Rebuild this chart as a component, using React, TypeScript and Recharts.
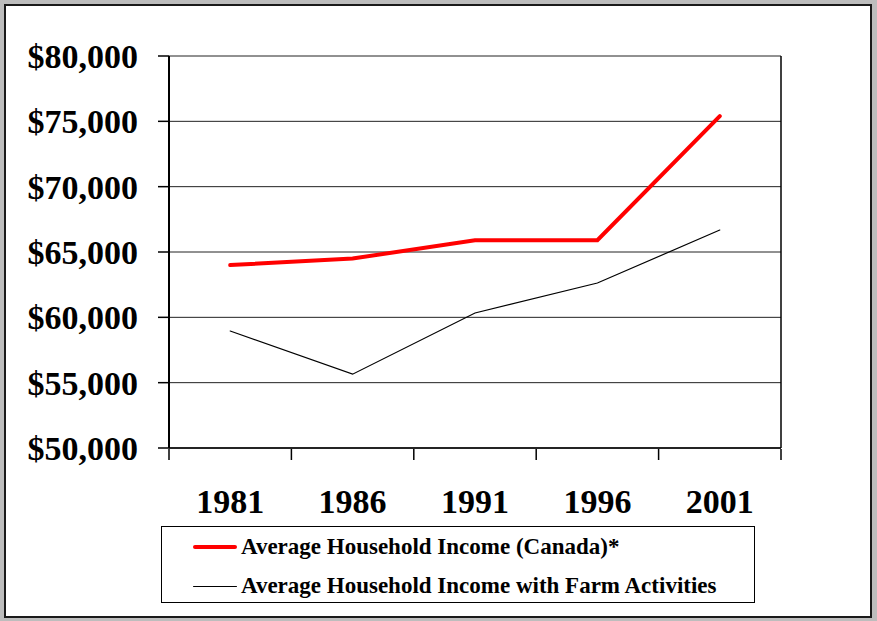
import { LineChart, Line, XAxis, YAxis, CartesianGrid } from 'recharts';

const years = ['1981', '1986', '1991', '1996', '2001'];
const canadaIncome = [64000, 64500, 65900, 65900, 75400];
const farmIncome = [58950, 55650, 60330, 62630, 66680];
const yTicks = [50000, 55000, 60000, 65000, 70000, 75000, 80000];
// category boundaries (Excel puts tick marks between categories)
const boundaryTicks = [-0.5, 0.5, 1.5, 2.5, 3.5, 4.5];

const seriesInfo = [
  { key: 'canada', name: 'Average Household Income (Canada)*', color: '#ff0000', width: 4 },
  { key: 'farm', name: 'Average Household Income with Farm Activities', color: '#000000', width: 1.2 },
];

const data = years.map((year, i) => ({
  year,
  idx: i,
  canada: canadaIncome[i],
  farm: farmIncome[i],
}));

const serif = '"Liberation Serif", "Times New Roman", serif';
const fmt = (v: number) => '$' + v.toLocaleString('en-US');

export default function App() {
  return (
    <div
      style={{
        position: 'fixed',
        left: 0,
        top: 0,
        width: 877,
        height: 621,
        background: '#bdbdbd',
        overflow: 'hidden',
      }}
    >
      <div
        style={{
          position: 'absolute',
          left: 4,
          top: 4,
          width: 868,
          height: 614,
          background: '#fff',
          border: '2px solid #1a1a1a',
          boxSizing: 'border-box',
        }}
      />
      <div style={{ position: 'absolute', left: 0, top: 0 }}>
        <LineChart width={877} height={621} data={data} margin={{ top: 56, right: 95, left: 29, bottom: 171 }}>
          <CartesianGrid horizontal vertical={false} stroke="#222" strokeWidth={1} yAxisId="left" />
          <XAxis
            dataKey="year"
            scale="band"
            height={1}
            tickSize={0}
            tickLine={false}
            tickMargin={41}
            stroke="#000"
            axisLine={{ stroke: '#000', strokeWidth: 1.5 }}
            tick={{ fill: '#000', fontSize: 34, fontWeight: 'bold', fontFamily: serif }}
            interval={0}
          />
          <XAxis
            xAxisId="bounds"
            dataKey="idx"
            type="number"
            domain={[boundaryTicks[0], boundaryTicks[boundaryTicks.length - 1]]}
            allowDataOverflow
            ticks={boundaryTicks}
            height={1}
            tickSize={11}
            stroke="#000"
            axisLine={false}
            tickLine={{ stroke: '#000', strokeWidth: 1.5 }}
            tickFormatter={() => ''}
            interval={0}
          />
          <YAxis
            yAxisId="left"
            width={140}
            domain={[50000, 80000]}
            ticks={yTicks}
            tickFormatter={fmt}
            tickSize={11}
            tickMargin={20}
            stroke="#000"
            axisLine={{ stroke: '#000', strokeWidth: 2 }}
            tickLine={{ stroke: '#000', strokeWidth: 1.5 }}
            tick={{ fill: '#000', fontSize: 34, fontWeight: 'bold', fontFamily: serif }}
            interval={0}
          />
          <YAxis
            yAxisId="right"
            orientation="right"
            width={1}
            domain={[50000, 80000]}
            tick={false}
            tickLine={false}
            stroke="#000"
            axisLine={{ stroke: '#000', strokeWidth: 1.5 }}
          />
          {seriesInfo.map((s) => (
            <Line
              key={s.key}
              yAxisId="left"
              type="linear"
              dataKey={s.key}
              name={s.name}
              stroke={s.color}
              strokeWidth={s.width}
              strokeLinecap="round"
              dot={false}
              activeDot={false}
              isAnimationActive={false}
            />
          ))}
        </LineChart>
      </div>
      <div
        style={{
          position: 'absolute',
          left: 161,
          top: 526,
          width: 594,
          height: 77,
          border: '1.5px solid #000',
          boxSizing: 'border-box',
          background: '#fff',
          fontFamily: serif,
          fontWeight: 'bold',
          fontSize: 23,
        }}
      >
        {seriesInfo.map((s, i) => (
          <div
            key={s.key}
            style={{
              position: 'absolute',
              left: 31,
              top: i === 0 ? 7 : 46,
              height: 26,
              display: 'flex',
              alignItems: 'center',
              whiteSpace: 'nowrap',
            }}
          >
            <span
              style={{
                display: 'inline-block',
                width: 44,
                height: s.width > 2 ? 4 : 1,
                background: s.color,
                borderRadius: 2,
                marginRight: 4,
              }}
            />
            <span>{s.name}</span>
          </div>
        ))}
      </div>
    </div>
  );
}
